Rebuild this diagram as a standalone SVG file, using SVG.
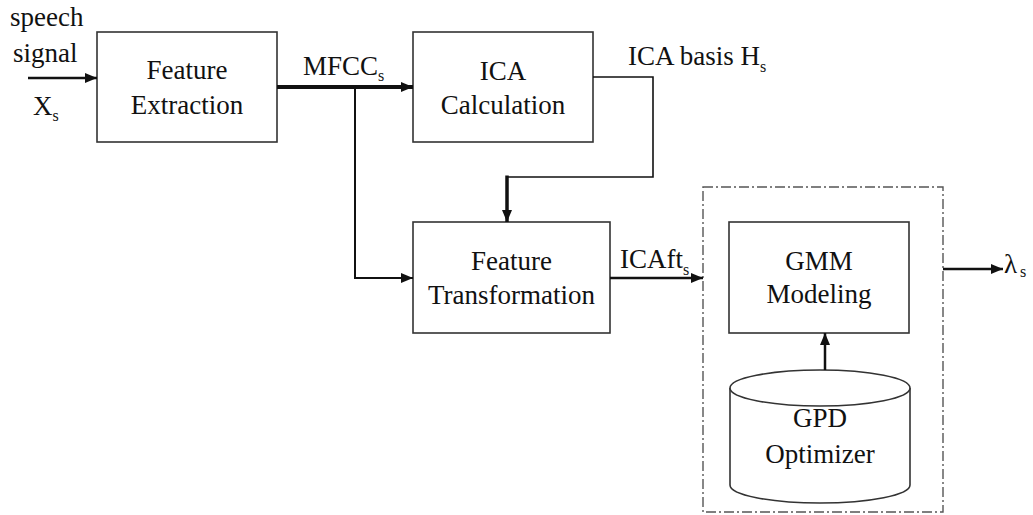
<svg xmlns="http://www.w3.org/2000/svg" width="1033" height="515" viewBox="0 0 1033 515" font-family="'Liberation Serif', 'Times New Roman', serif">
<style>
text{font-family:'Liberation Serif','Times New Roman',serif;font-size:27px;fill:#111}
.c{text-anchor:middle}
.sub{font-size:16px}
.box{fill:#fff;stroke:#333;stroke-width:1.6}
.ln{fill:none;stroke:#111}
</style>
<defs>
<marker id="ah" markerUnits="userSpaceOnUse" markerWidth="12" markerHeight="10" refX="12" refY="5" orient="auto">
<path d="M0,0 L12,5 L0,10 Z" fill="#111"/>
</marker>
</defs>
<rect width="1033" height="515" fill="#fff"/>
<g id="container">
<rect x="703" y="187" width="240" height="325" fill="none" stroke="#555" stroke-width="1.4" stroke-dasharray="10,3,2,3"/>
</g>
<g id="feature-extraction">
<rect class="box" x="97" y="32" width="180" height="110"/>
<text class="c" x="187" y="79">Feature</text>
<text class="c" x="187" y="114">Extraction</text>
</g>
<g id="ica-calculation">
<rect class="box" x="413" y="32" width="180" height="110"/>
<text class="c" x="503" y="80">ICA</text>
<text class="c" x="503" y="114">Calculation</text>
</g>
<g id="feature-transformation">
<rect class="box" x="413" y="222" width="197" height="111"/>
<text class="c" x="511.5" y="270">Feature</text>
<text class="c" x="511.5" y="304">Transformation</text>
</g>
<g id="gmm-modeling">
<rect class="box" x="729" y="222" width="180" height="111"/>
<text class="c" x="819" y="270">GMM</text>
<text class="c" x="819" y="303">Modeling</text>
</g>
<g id="gpd-optimizer">
<path d="M730,388 L730,485 A90,18 0 0 0 910,485 L910,388" fill="#fff" stroke="#333" stroke-width="1.6"/>
<ellipse cx="820" cy="388" rx="90" ry="18" fill="#fff" stroke="#333" stroke-width="1.6"/>
<text class="c" x="820" y="427">GPD</text>
<text class="c" x="820" y="463">Optimizer</text>
</g>
<g id="connectors">
<line class="ln" x1="28" y1="78" x2="97" y2="78" stroke-width="2.5" marker-end="url(#ah)"/>
<line class="ln" x1="277" y1="87" x2="413" y2="87" stroke-width="4" marker-end="url(#ah)"/>
<polyline class="ln" points="355,87 355,278 413,278" stroke-width="2" marker-end="url(#ah)"/>
<polyline class="ln" points="593,77 653,77 653,177 507,177" stroke-width="1.6"/>
<line class="ln" x1="507" y1="175.5" x2="507" y2="222" stroke-width="3.5" marker-end="url(#ah)"/>
<line class="ln" x1="610" y1="278" x2="703" y2="278" stroke-width="2.5" marker-end="url(#ah)"/>
<line class="ln" x1="825" y1="370" x2="825" y2="333" stroke-width="2.5" marker-end="url(#ah)"/>
<line class="ln" x1="943" y1="269" x2="1003" y2="269" stroke-width="2.5" marker-end="url(#ah)"/>
</g>
<g id="labels">
<text x="10" y="26">speech</text>
<text x="13" y="62">signal</text>
<text x="33" y="115">X<tspan class="sub" dy="6">s</tspan></text>
<text x="303" y="75">MFCC<tspan class="sub" dy="6">s</tspan></text>
<text x="628" y="65">ICA basis H<tspan class="sub" dy="7">s</tspan></text>
<text x="620" y="268">ICAft<tspan class="sub" dy="7">s</tspan></text>
<text x="1004" y="273">λ<tspan class="sub" dx="3" dy="4">s</tspan></text>
</g>
</svg>
